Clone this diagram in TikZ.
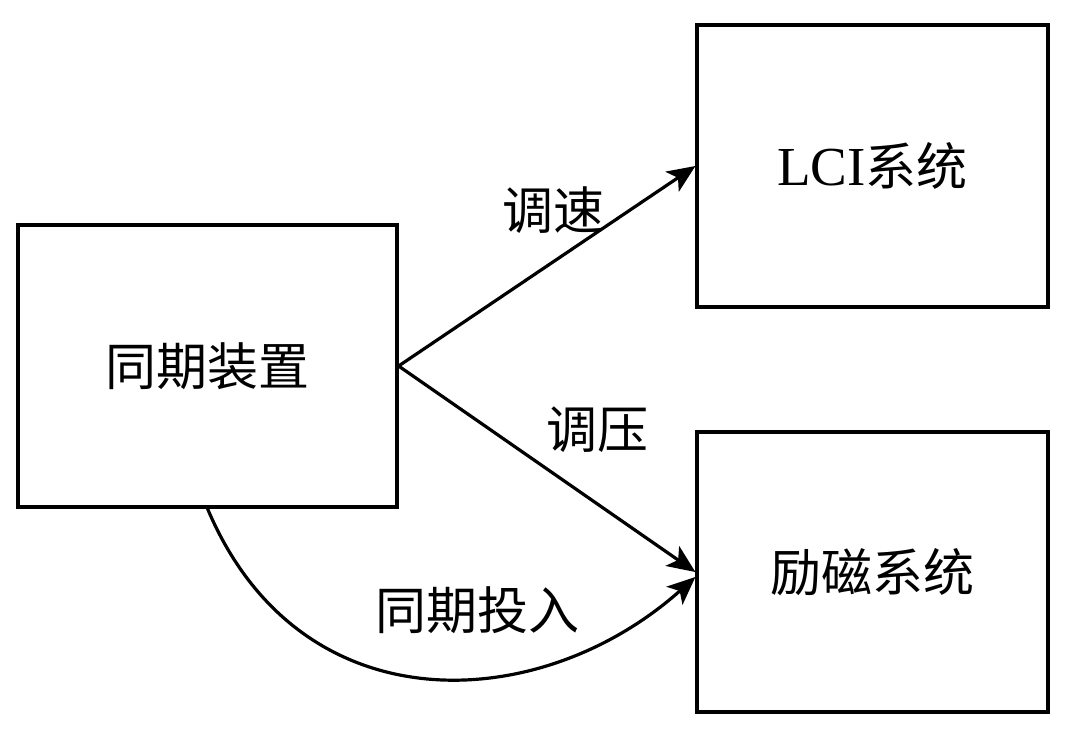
\documentclass[tikz,border=0pt]{standalone}
\usepackage{fontspec}
\setmainfont{Liberation Serif}
\newfontfamily\cjk{Noto Sans CJK SC}
\usetikzlibrary{arrows.meta}
\begin{document}
\begin{tikzpicture}[x=1pt,y=-1pt,
  blockbox/.style={draw=black,line width=3.2pt,inner sep=0pt,minimum width=#1,font=\fontsize{51}{60}\selectfont},
  lbl/.style={font=\fontsize{51}{60}\selectfont\cjk,inner sep=0pt},
  conn/.style={line width=3.2pt,-{Stealth[length=28pt,width=24pt,inset=7pt]}}]
\useasboundingbox (0,0) rectangle (1080,732);
\node[blockbox=379pt,minimum height=282pt] (a) at (207.5,366) {\cjk 同期装置};
\node[blockbox=351pt,minimum height=282pt] (b) at (872.5,166) {{\fontsize{55}{60}\selectfont LCI}\cjk 系统};
\node[blockbox=351pt,minimum height=280pt] (c) at (872.5,572) {\cjk 励磁系统};
\coordinate (ce) at ([yshift=-5pt]c.west);
\draw[conn] (a.east) -- (b.west);
\draw[conn] (a.east) -- (c.west);
\draw[conn] (a.south) .. controls (300,728) and (540,716) .. (ce);
\node[lbl] (l1) at (553,210) {调速};
\node[lbl] (l2) at (597,430) {调压};
\node[lbl] (l3) at (477,610) {同期投入};
\end{tikzpicture}
\end{document}
